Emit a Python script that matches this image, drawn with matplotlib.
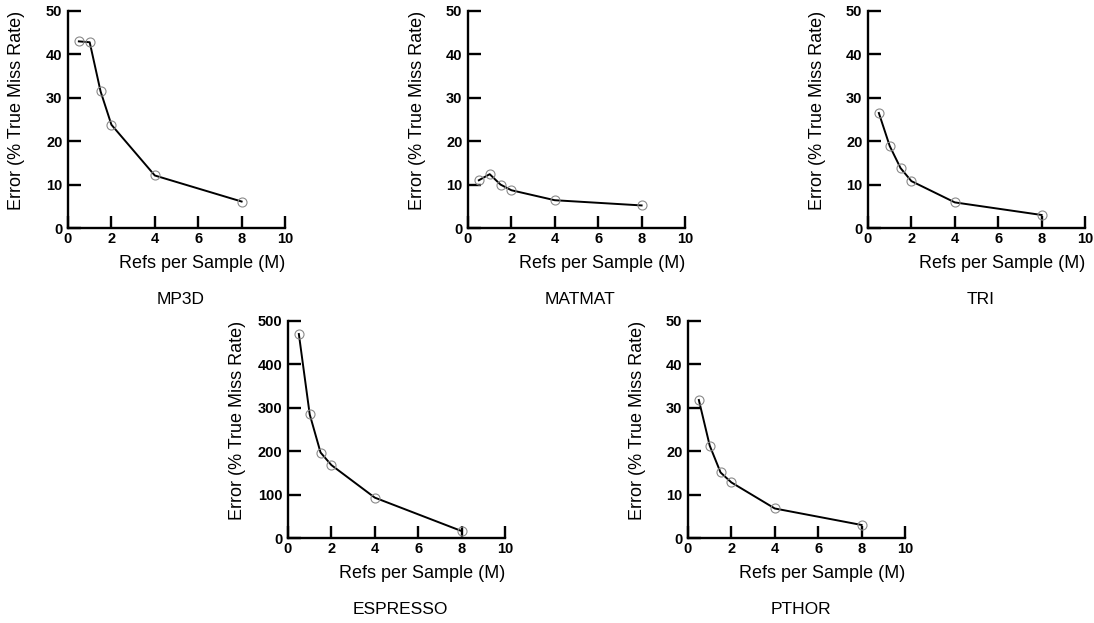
import matplotlib
matplotlib.use("Agg")
import matplotlib.pyplot as plt

plt.rcParams['font.family'] = ['Liberation Sans', 'DejaVu Sans']

refs = [0.5, 1, 1.5, 2, 4, 8]
names = ["MP3D", "MATMAT", "TRI", "ESPRESSO", "PTHOR"]
mp3d = [43.0, 42.8, 31.5, 23.8, 12.1, 6.1]
matmat = [11.0, 12.4, 10.0, 8.7, 6.4, 5.2]
tri = [26.5, 18.9, 13.8, 10.8, 5.9, 3.0]
espresso = [470, 285, 197, 168, 93, 16]
pthor = [31.8, 21.3, 15.1, 12.8, 6.8, 3.0]
series = [mp3d, matmat, tri, espresso, pthor]
ymax = [50, 50, 50, 500, 50]
yticks_list = [[0, 10, 20, 30, 40, 50]] * 3 + [[0, 100, 200, 300, 400, 500]] + [[0, 10, 20, 30, 40, 50]]
xticks = [0, 2, 4, 6, 8, 10]

W, H = 1094, 623
fig = plt.figure(figsize=(W / 100, H / 100), dpi=100)

# pixel positions (left, top) of each axes
pos = [(68, 11), (468, 11), (868, 11), (288, 321), (688, 321)]
aw, ah = 217, 217

for (lx, ty), name, ys, ym, yt in zip(pos, names, series, ymax, yticks_list):
    ax = fig.add_axes([lx / W, (H - ty - ah) / H, aw / W, ah / H])
    ax.plot(refs, ys, color='black', lw=1.4, zorder=2)
    ax.plot(refs, ys, ls='none', marker='o', ms=6.5, mfc='none', mec='#8a8a8a', mew=0.8, zorder=3)
    ax.set_xlim(0, 10)
    ax.set_ylim(0, ym)
    ax.set_xticks(xticks)
    ax.set_yticks(yt)
    for s in ['top', 'right']:
        ax.spines[s].set_visible(False)
    for s in ['left', 'bottom']:
        ax.spines[s].set_linewidth(1.7)
    ax.tick_params(direction='in', length=9, width=1.7, labelsize=10.5, pad=4)
    for lab in ax.get_xticklabels() + ax.get_yticklabels():
        lab.set_fontweight('bold')
    ax.tick_params(axis='x', pad=3)
    # x label right-aligned at axes right edge
    fig.text((lx + aw) / W, (H - (ty + ah + 35)) / H, "Refs per Sample (M)",
             ha='right', va='center', fontsize=13)
    fig.text((lx - 51) / W, (H - (ty + ah / 2 - 9)) / H, "Error (% True Miss Rate)",
             ha='center', va='center', rotation=90, fontsize=13)
    fig.text((lx + aw / 2 + 4) / W, (H - (ty + ah + 71)) / H, name,
             ha='center', va='center', fontsize=12.5)

fig.savefig("out.png", dpi=100)
